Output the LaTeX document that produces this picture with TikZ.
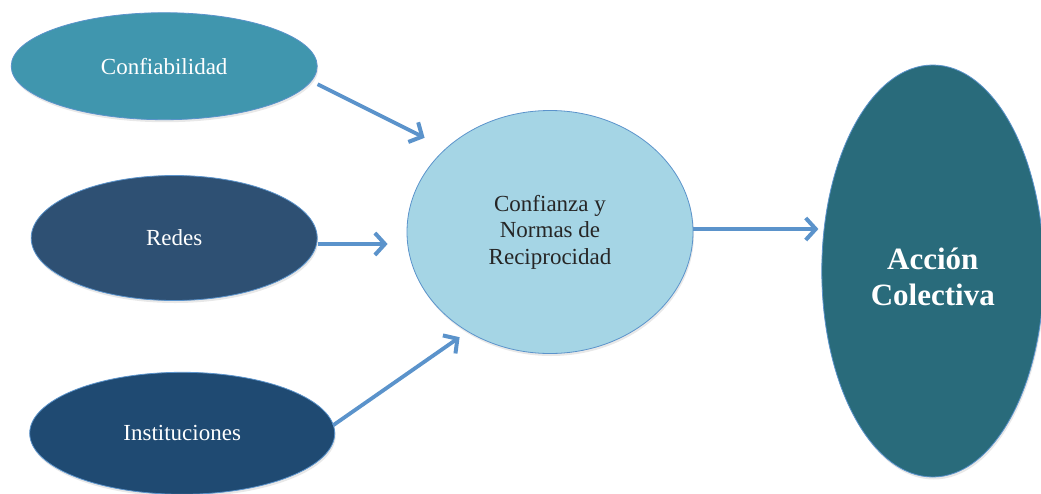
\documentclass[tikz,border=0pt]{standalone}
\usepackage{fontspec}
\setmainfont{Liberation Serif}
\usepackage{xcolor}
\usetikzlibrary{shapes,arrows.meta,calc,positioning,shadows}

\definecolor{confcol}{HTML}{4096AE}
\definecolor{redescol}{HTML}{2E5073}
\definecolor{instcol}{HTML}{1F4A72}
\definecolor{centcol}{HTML}{A5D5E5}
\definecolor{acccol}{HTML}{296B7B}
\definecolor{arrcol}{HTML}{5B93CB}

\begin{document}
\begin{tikzpicture}[blob/.style={ellipse, draw=arrcol, line width=0.8pt, inner sep=0pt,
                    align=center, drop shadow={opacity=0.18, shadow xshift=1pt, shadow yshift=-2.5pt}},
                    lbl/.style={text=white, font=\fontsize{23}{27}\selectfont},
                    arr/.style={draw=arrcol, line width=3.8pt},
                    >={Straight Barb[length=10pt,width=22pt,line width=4pt]}]

  \useasboundingbox (0,0) rectangle (1041pt,-493pt);

  \node[blob, fill=centcol, minimum width=286pt, minimum height=243pt,
        font=\fontsize{23}{26.5}\selectfont, text=black!85] (cent) at (550pt,-232pt)
        {Confianza y\\Normas de\\Reciprocidad};
  \node[blob, lbl, fill=redescol, minimum width=286pt, minimum height=125pt,
        left=89pt of cent, yshift=-6pt] (redes) {Redes};
  \node[blob, lbl, fill=confcol, minimum width=306pt, minimum height=107pt,
        above=55pt of redes, xshift=-10pt] (conf) {Confiabilidad};
  \node[blob, lbl, fill=instcol, minimum width=305pt, minimum height=122pt,
        below=71pt of redes, xshift=8pt] (inst) {Instituciones};
  \node[blob, fill=acccol, text=white, minimum width=222pt, minimum height=412pt,
        font=\bfseries\fontsize{31}{36}\selectfont,
        right=128pt of cent, yshift=-39pt] (acc) {\mbox{}\\[-2pt]Acción\\Colectiva};

  \draw[arr,->] ($(conf.east)+(0,-18pt)$) -- ($(cent.north west)+(-24pt,8pt)$);
  \draw[arr,->] ($(redes.east)+(0,-6pt)$) -- ($(cent.west)+(-19pt,-12pt)$);
  \draw[arr,->] ($(inst.east)+(-2pt,8pt)$) -- ($(cent.south west)+(11pt,-19pt)$);
  \draw[arr,->] ($(cent.east)+(0,3pt)$) -- ($(cent.east -| acc.west)+(-3pt,3pt)$);
\end{tikzpicture}
\end{document}
